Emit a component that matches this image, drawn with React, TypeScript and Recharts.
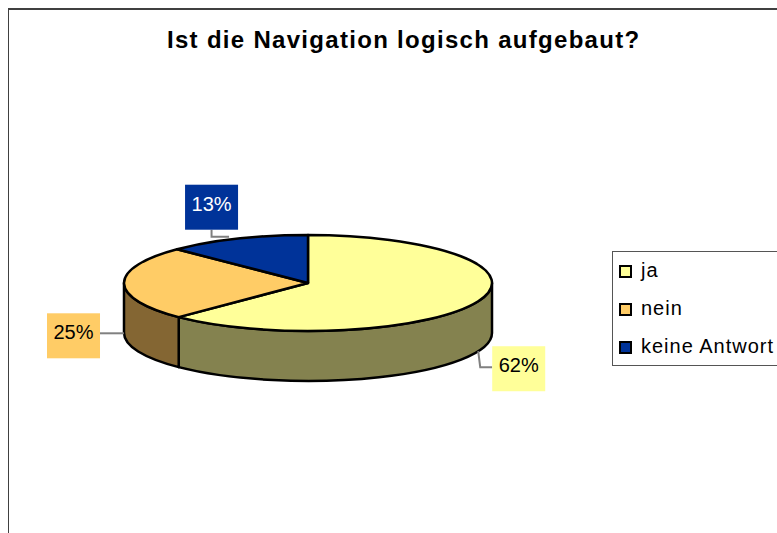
import { PieChart, Pie, Cell, Legend } from 'recharts';

const categories = ['ja', 'nein', 'keine Antwort'];
const shares = [62.4, 25, 12.6];
const topColors = ['#FFFF99', '#FFCC66', '#003399'];
const wallColors = ['#84824F', '#846633', '#001A4D'];
const labelColors = ['#000000', '#000000', '#FFFFFF'];

const table = categories.map((name, i) => ({ name, value: shares[i] }));

const FONT = '"Liberation Sans", Arial, sans-serif';
const TILT = 48 / 184;
const DEPTH = 50;
const BOX_W = 53;
const BOX_H = 45;

const edge = (cx: number, cy: number, r: number, deg: number) => {
  const a = (deg * Math.PI) / 180;
  return { x: cx + r * Math.cos(a), y: cy - r * TILT * Math.sin(a) };
};

// top face: the sector from the pie layout, squashed into an ellipse
const TopFace = (p: any) => {
  const s = edge(p.cx, p.cy, p.outerRadius, p.startAngle);
  const e = edge(p.cx, p.cy, p.outerRadius, p.endAngle);
  const large = Math.abs(p.startAngle - p.endAngle) > 180 ? 1 : 0;
  const ry = p.outerRadius * TILT;
  return (
    <path
      d={`M${p.cx},${p.cy} L${s.x},${s.y} A${p.outerRadius},${ry} 0 ${large} 1 ${e.x},${e.y} Z`}
      fill={p.fill}
      stroke="#000"
      strokeWidth={2.5}
      strokeLinejoin="round"
    />
  );
};

// side wall: only the part of the sector on the front half of the rim
const WallFace = (p: any) => {
  const from = Math.min(p.startAngle, 0);
  const to = Math.max(p.endAngle, -180);
  if (from <= to) return <g />;
  const s = edge(p.cx, p.cy, p.outerRadius, from);
  const e = edge(p.cx, p.cy, p.outerRadius, to);
  const ry = p.outerRadius * TILT;
  return (
    <path
      d={`M${s.x},${s.y} A${p.outerRadius},${ry} 0 0 1 ${e.x},${e.y} L${e.x},${e.y + DEPTH} A${p.outerRadius},${ry} 0 0 0 ${s.x},${s.y + DEPTH} Z`}
      fill={p.fill}
      stroke="#000"
      strokeWidth={2.5}
      strokeLinejoin="round"
    />
  );
};

// box offset from the rim anchor, per slice
const boxOffset = [
  { dx: 14, dy: -5 },
  { dx: -77, dy: -20 },
  { dx: -52, dy: -54 },
];

const SliceLabel = (p: any) => {
  const i = p.index;
  const mid = p.midAngle;
  const rim = edge(p.cx, p.cy, p.outerRadius ?? 184, mid);
  const ax = rim.x;
  const ay = Math.sin((mid * Math.PI) / 180) < 0 ? rim.y + DEPTH : rim.y;
  const bx = ax + boxOffset[i].dx;
  const by = ay + boxOffset[i].dy;
  let leader = '';
  if (i === 0) leader = `M${ax},${ay} L${ax + 2},${by + 21} L${bx},${by + 21}`;
  if (i === 1) leader = `M${ax},${ay} L${bx + BOX_W},${ay}`;
  if (i === 2) leader = `M${bx + BOX_W / 2},${by + BOX_H} L${bx + BOX_W / 2},${ay - 2} L${ax - 8},${ay - 2}`;
  return (
    <g>
      <path d={leader} fill="none" stroke="#808080" strokeWidth={2} />
      <rect x={bx} y={by} width={BOX_W} height={BOX_H} fill={topColors[i]} />
      <text
        x={bx + BOX_W / 2}
        y={by + BOX_H / 2 + 3.5}
        textAnchor="middle"
        fontFamily={FONT}
        fontSize={20}
        fill={labelColors[i]}
      >
        {Math.round(shares[i])}%
      </text>
    </g>
  );
};

const LegendBox = () => (
  <div
    style={{
      boxSizing: 'border-box',
      width: 175,
      height: 115,
      border: '1.5px solid #555',
      borderRight: 'none',
      background: '#fff',
      fontFamily: FONT,
      fontSize: 20,
      color: '#000',
    }}
  >
    {categories.map((name, i) => (
      <div key={name} style={{ display: 'flex', alignItems: 'center', height: 38 }}>
        <span
          style={{
            boxSizing: 'border-box',
            width: 13,
            height: 13,
            marginLeft: 6,
            marginRight: 9,
            border: '2px solid #000',
            background: topColors[i],
          }}
        />
        <span style={{ letterSpacing: 1, whiteSpace: 'nowrap', position: 'relative', top: -1 }}>{name}</span>
      </div>
    ))}
  </div>
);

export default function App() {
  return (
    <div style={{ position: 'fixed', left: 8, top: 8, width: 769, height: 525, overflow: 'hidden', background: '#fff' }}>
      <div
        style={{
          position: 'absolute',
          left: -1,
          top: 0,
          width: 790,
          height: 560,
          borderLeft: '2px solid #404040',
          borderTop: '2px solid #404040',
        }}
      />
      <div
        style={{
          position: 'absolute',
          left: 159,
          top: 18,
          fontFamily: FONT,
          fontSize: 24,
          fontWeight: 'bold',
          letterSpacing: 1.3,
          whiteSpace: 'nowrap',
          color: '#000',
        }}
      >
        Ist die Navigation logisch aufgebaut?
      </div>
      <div style={{ position: 'absolute', left: 0, top: 0 }}>
        <PieChart width={769} height={525} margin={{ top: 0, right: 0, bottom: 0, left: 0 }}>
          <Pie
            data={table}
            dataKey="value"
            nameKey="name"
            cx={300}
            cy={275}
            outerRadius={184}
            startAngle={90}
            endAngle={-270}
            shape={WallFace}
            legendType="none"
            isAnimationActive={false}
          >
            {wallColors.map((c) => (
              <Cell key={c} fill={c} />
            ))}
          </Pie>
          <Pie
            data={table}
            dataKey="value"
            nameKey="name"
            cx={300}
            cy={275}
            outerRadius={184}
            startAngle={90}
            endAngle={-270}
            shape={TopFace}
            label={SliceLabel}
            labelLine={false}
            isAnimationActive={false}
          >
            {topColors.map((c) => (
              <Cell key={c} fill={c} />
            ))}
          </Pie>
          <Legend content={<LegendBox />} wrapperStyle={{ left: 604, top: 243, width: 175, bottom: 'auto' }} />
        </PieChart>
      </div>
    </div>
  );
}
